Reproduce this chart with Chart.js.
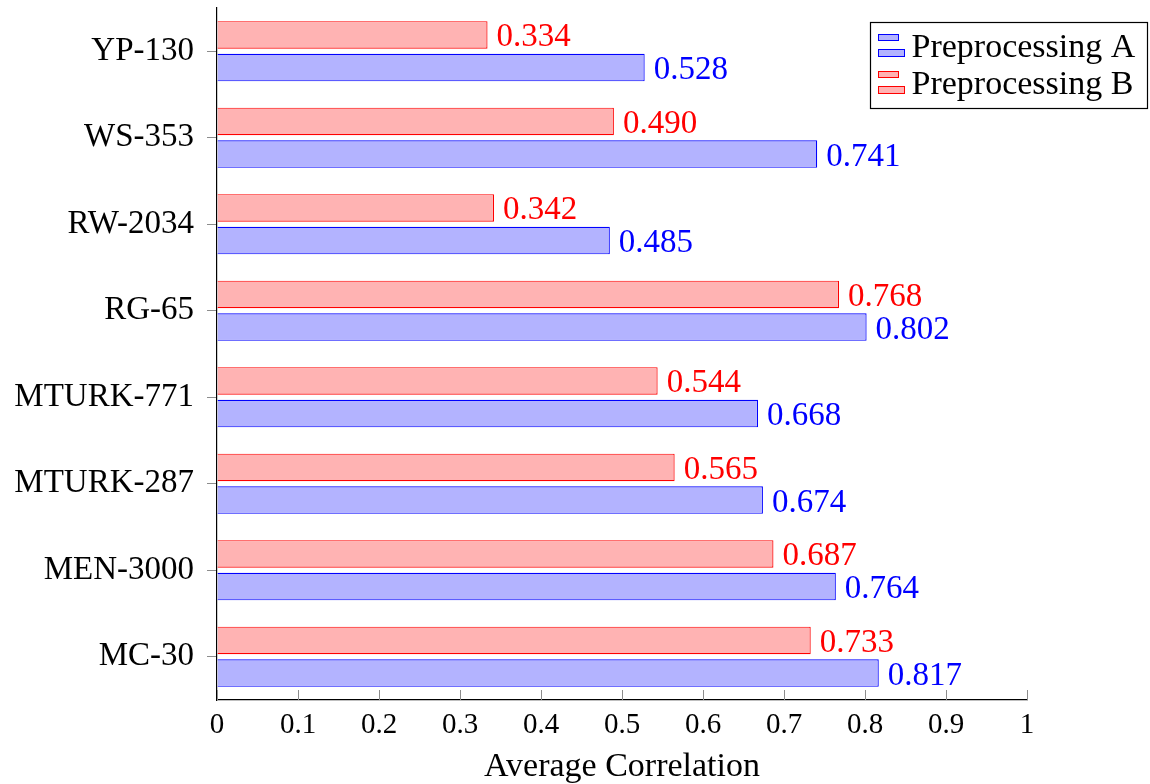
<!DOCTYPE html>
<html>
<head>
<meta charset="utf-8">
<title>Average Correlation by Dataset</title>
<script src="https://cdn.jsdelivr.net/npm/chart.js@4/dist/chart.umd.min.js"></script>
<style>
  html, body { margin: 0; padding: 0; background: #ffffff; }
  #wrap { width: 1150px; height: 784px; }
</style>
</head>
<body>
<div id="wrap"><canvas id="chart" width="1150" height="784"></canvas></div>
<script>
// Benchmarks, listed top to bottom
const benchmarks = ['YP-130', 'WS-353', 'RW-2034', 'RG-65', 'MTURK-771', 'MTURK-287', 'MEN-3000', 'MC-30'];
// Average correlation per benchmark
const preprocessingA = [0.528, 0.741, 0.485, 0.802, 0.668, 0.674, 0.764, 0.817];
const preprocessingB = [0.334, 0.490, 0.342, 0.768, 0.544, 0.565, 0.687, 0.733];
const seriesNames = ['Preprocessing A', 'Preprocessing B'];
// x axis tick values
const xTickValues = [0, 0.1, 0.2, 0.3, 0.4, 0.5, 0.6, 0.7, 0.8, 0.9, 1];
const xTickLabels = ['0', '0.1', '0.2', '0.3', '0.4', '0.5', '0.6', '0.7', '0.8', '0.9', '1'];
const axisTitle = 'Average Correlation';

const SERIF = '"Liberation Serif", "Times New Roman", serif';
const BLUE = '#0000ff', BLUE_FILL = 'rgb(179,179,255)';
const RED = '#ff0000', RED_FILL = 'rgb(255,179,179)';

// x ticks point inward (upwards from the axis line)
const inwardTicks = {
  id: 'inwardTicks',
  afterDatasetsDraw(chart) {
    const { ctx, scales: { x }, chartArea } = chart;
    ctx.save();
    ctx.strokeStyle = '#8c8c8c';
    ctx.lineWidth = 1;
    xTickValues.forEach(v => {
      const px = Math.round(x.getPixelForValue(v)) + 0.5;
      ctx.beginPath();
      ctx.moveTo(px, chartArea.bottom);
      ctx.lineTo(px, chartArea.bottom - 10);
      ctx.stroke();
    });
    ctx.restore();
  }
};

// value printed to the right of each bar
const valueLabels = {
  id: 'valueLabels',
  afterDatasetsDraw(chart) {
    const { ctx } = chart;
    ctx.save();
    ctx.font = '33px ' + SERIF;
    ctx.textAlign = 'left';
    ctx.textBaseline = 'alphabetic';
    chart.data.datasets.forEach((ds, i) => {
      const meta = chart.getDatasetMeta(i);
      ctx.fillStyle = ds.borderColor;
      meta.data.forEach((bar, j) => {
        ctx.fillText(ds.data[j].toFixed(3), bar.x + 9, bar.y + 11.5);
      });
    });
    ctx.restore();
  }
};

// boxed legend in the top-right corner, bar-style icons
const boxedLegend = {
  id: 'boxedLegend',
  afterDraw(chart) {
    const { ctx, chartArea } = chart;
    const left = 870.5, top = chartArea.top + 14.5, w = 277, h = 86;
    ctx.save();
    ctx.fillStyle = '#ffffff';
    ctx.fillRect(left, top, w, h);
    ctx.strokeStyle = '#000000';
    ctx.lineWidth = 1.2;
    ctx.strokeRect(left, top, w, h);
    const order = [1, 0]; // A first, then B
    order.forEach((di, row) => {
      const ds = chart.data.datasets[di];
      const cy = top + 23 + row * 37;
      ctx.fillStyle = ds.backgroundColor;
      ctx.strokeStyle = ds.borderColor;
      ctx.lineWidth = 1;
      ctx.fillRect(left + 8, cy - 11, 20, 6);
      ctx.strokeRect(left + 8, cy - 11, 20, 6);
      ctx.fillRect(left + 8, cy + 4, 26, 7);
      ctx.strokeRect(left + 8, cy + 4, 26, 7);
      ctx.fillStyle = '#000000';
      ctx.font = '34px ' + SERIF;
      ctx.textAlign = 'left';
      ctx.textBaseline = 'alphabetic';
      ctx.fillText(ds.label, left + 41, cy + 11);
    });
    ctx.restore();
  }
};

new Chart(document.getElementById('chart'), {
  type: 'bar',
  data: {
    labels: benchmarks,
    datasets: [
      {
        label: seriesNames[1],
        data: preprocessingB,
        backgroundColor: RED_FILL,
        borderColor: RED,
        borderWidth: 1.2,
        borderSkipped: 'start'
      },
      {
        label: seriesNames[0],
        data: preprocessingA,
        backgroundColor: BLUE_FILL,
        borderColor: BLUE,
        borderWidth: 1.2,
        borderSkipped: 'start'
      }
    ]
  },
  options: {
    indexAxis: 'y',
    responsive: false,
    animation: false,
    devicePixelRatio: 1,
    categoryPercentage: 0.752,
    barPercentage: 0.85,
    layout: { padding: { top: 8, right: 123, bottom: 0, left: 0 } },
    plugins: {
      legend: { display: false },
      tooltip: { enabled: false }
    },
    scales: {
      x: {
        type: 'linear',
        min: 0,
        max: 1,
        afterBuildTicks(scale) {
          scale.ticks = xTickValues.map(v => ({ value: v }));
        },
        afterFit(scale) {
          scale.height = 84;
          scale.paddingLeft = 0;
          scale.paddingRight = 0;
        },
        grid: { display: true, drawOnChartArea: false, drawTicks: false },
        border: { display: true, color: '#000000', width: 1.2 },
        ticks: {
          padding: 8,
          color: '#000000',
          font: { family: SERIF, size: 29 },
          callback: (v, i) => xTickLabels[i]
        },
        title: {
          display: true,
          text: axisTitle,
          color: '#000000',
          font: { family: SERIF, size: 34 },
          padding: { top: 0, bottom: -3 }
        }
      },
      y: {
        type: 'category',
        afterFit(scale) {
          scale.width = 217;
          scale.paddingTop = 0;
          scale.paddingBottom = 0;
        },
        grid: {
          display: true,
          drawOnChartArea: false,
          drawTicks: true,
          tickLength: 10,
          offset: false,
          color: '#8c8c8c'
        },
        border: { display: true, color: '#000000', width: 1.2 },
        ticks: {
          padding: 13,
          color: '#000000',
          font: { family: SERIF, size: 33 }
        }
      }
    }
  },
  plugins: [inwardTicks, valueLabels, boxedLegend]
});
</script>
</body>
</html>
